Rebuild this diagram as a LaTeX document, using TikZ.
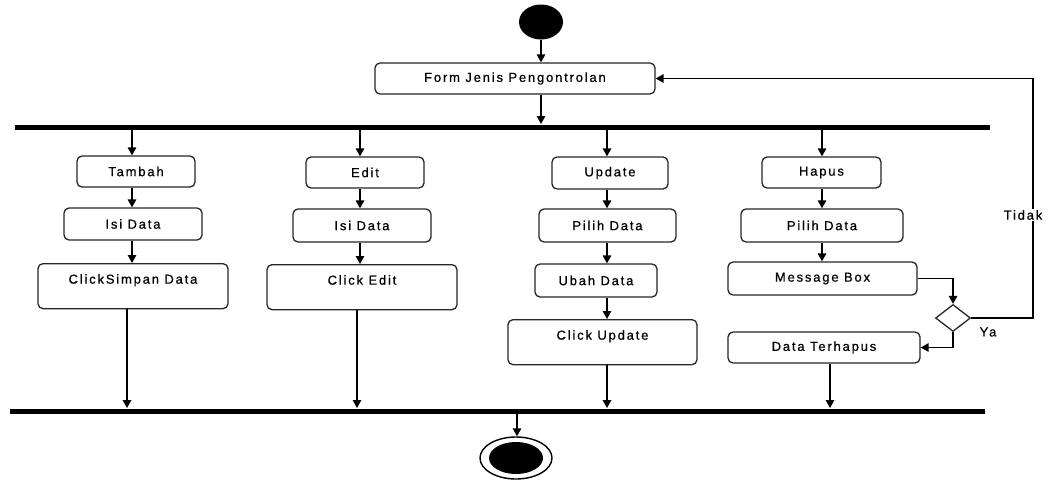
\documentclass[tikz,border=0pt]{standalone}
\usepackage{fontspec}
\setmainfont{Liberation Sans}[LetterSpace=14,FakeBold=0.6]
\usetikzlibrary{shapes.geometric,arrows.meta,calc}
\begin{document}
\begin{tikzpicture}[x=1pt,y=-1pt,
  every node/.style={font=\fontsize{13}{15}\selectfont},
  act/.style={draw=black!85,line width=1.3pt,rounded corners=5pt,fill=white,inner sep=0pt},
  arr/.style={line width=1.4pt,-{Triangle[length=8pt,width=8.5pt]}},
  bar/.style={line width=5pt},
  lbl/.style={inner sep=1pt}]
\useasboundingbox (0,0) rectangle (1057,480);

% initial node and form
\node[ellipse,fill=black,minimum width=44pt,minimum height=35pt,inner sep=0pt] (start) at (541,22) {};
\node[act,minimum width=280pt,minimum height=31pt] (form) at (515,78.5) {Form Jenis Pengontrolan};

% fork and join bars
\draw[bar] (15,127) -- (990,127);
\draw[bar] (10,411) -- (985,411);
\coordinate (forkin) at (541,124);
\coordinate (f1) at (132,127);
\coordinate (f2) at (360,127);
\coordinate (f3) at (607,127);
\coordinate (f4) at (822,127);
\coordinate (j1) at (127,408);
\coordinate (j2) at (357,408);
\coordinate (j3) at (607,408);
\coordinate (j4) at (830,408);
\coordinate (jout) at (517,411);

% branch: Tambah
\node[act,minimum width=118pt,minimum height=31pt] (tambah) at (136,171.5) {Tambah};
\node[act,minimum width=138pt,minimum height=32pt] (isi1) at (133,224) {Isi Data};
\node[act,minimum width=190pt,minimum height=45pt,text height=20pt,text depth=25pt,anchor=north] (simpan) at (133,263) {ClickSimpan Data};

% branch: Edit
\node[act,minimum width=118pt,minimum height=31pt] (edit) at (365,172.5) {Edit};
\node[act,minimum width=138pt,minimum height=33pt] (isi2) at (362,225.5) {Isi Data};
\node[act,minimum width=190pt,minimum height=45pt,text height=20pt,text depth=25pt,anchor=north] (clickedit) at (362,264) {Click Edit};

% branch: Update
\node[act,minimum width=116pt,minimum height=32pt] (update) at (610,173) {Update};
\node[act,minimum width=137pt,minimum height=33pt] (pilih1) at (607.5,225.5) {Pilih Data};
\node[act,minimum width=122pt,minimum height=33pt] (ubah) at (596,280.5) {Ubah Data};
\node[act,minimum width=189pt,minimum height=45pt,text height=20pt,text depth=25pt,anchor=north] (clickupd) at (602.5,319) {Click Update};

% branch: Hapus
\node[act,minimum width=119pt,minimum height=31pt] (hapus) at (821.5,172.5) {Hapus};
\node[act,minimum width=162pt,minimum height=33pt] (pilih2) at (822,225.5) {Pilih Data};
\node[act,minimum width=189pt,minimum height=33pt] (msg) at (822.5,278.5) {Message Box};
\node[draw=black!85,line width=1.3pt,diamond,fill=white,minimum width=35pt,minimum height=27pt,inner sep=0pt] (dec) at (953,318) {};
\node[act,minimum width=192pt,minimum height=31pt] (terhapus) at (824,347.5) {Data Terhapus};

% final node
\node[ellipse,draw,line width=1.4pt,minimum width=72pt,minimum height=42pt,inner sep=0pt] (endo) at (516,458) {};
\node[ellipse,fill=black,minimum width=54pt,minimum height=32pt,inner sep=0pt] (endi) at (516,458) {};

% control flow
\draw[arr] (start.south) -- (start.south |- form.north);
\draw[arr] (form.south -| forkin) -- (forkin);

\draw[arr] (f1) -- (f1 |- tambah.north);
\draw[arr] (tambah.south -| f1) -- (f1 |- isi1.north);
\draw[arr] (isi1.south -| f1) -- (f1 |- simpan.north);
\draw[arr] (simpan.south -| j1) -- (j1);

\draw[arr] (f2) -- (f2 |- edit.north);
\draw[arr] (edit.south -| f2) -- (f2 |- isi2.north);
\draw[arr] (isi2.south -| f2) -- (f2 |- clickedit.north);
\draw[arr] (clickedit.south -| j2) -- (j2);

\draw[arr] (f3) -- (f3 |- update.north);
\draw[arr] (update.south -| f3) -- (f3 |- pilih1.north);
\draw[arr] (pilih1.south -| f3) -- (f3 |- ubah.north);
\draw[arr] (ubah.south -| f3) -- (f3 |- clickupd.north);
\draw[arr] (clickupd.south -| j3) -- (j3);

\draw[arr] (f4) -- (f4 |- hapus.north);
\draw[arr] (hapus.south -| f4) -- (f4 |- pilih2.north);
\draw[arr] (pilih2.south -| f4) -- (f4 |- msg.north);
\draw[arr] (msg.east) -| (dec.north);
\draw[arr] (dec.south) |- (terhapus.east);
\draw[arr] (terhapus.south -| j4) -- (j4);

\coordinate (loopr) at (1033,318);
\draw[arr] (dec.east) -- (loopr) |- (form.east);
\node[lbl,fill=white] (tidak) at (1023,215) {Tidak};
\node[lbl] (ya) at (988,332) {Ya};

\draw[arr] (jout) -- (jout |- endo.north);
\end{tikzpicture}
\end{document}
